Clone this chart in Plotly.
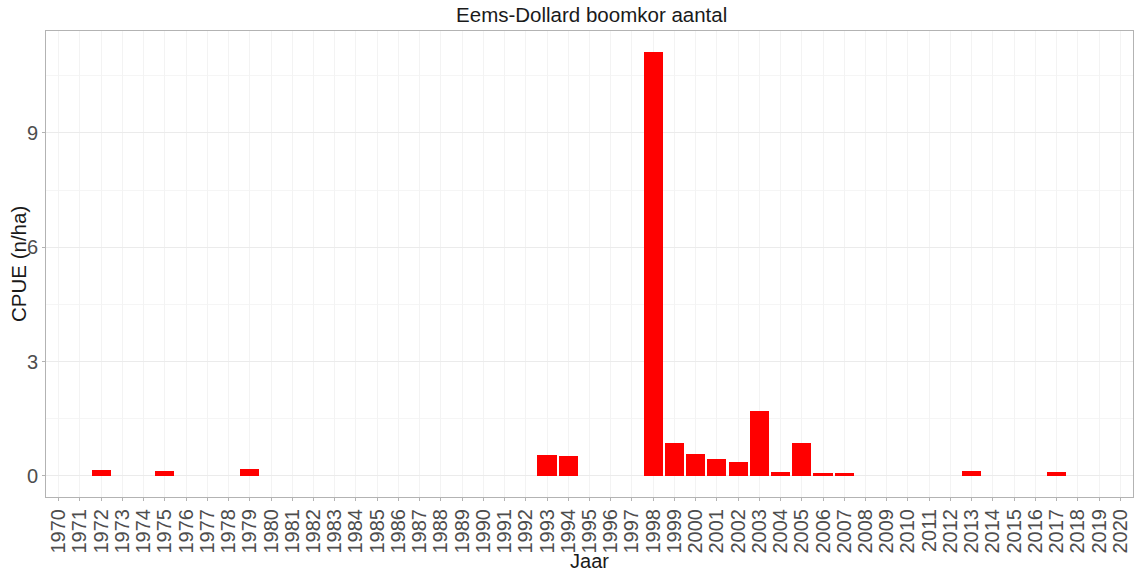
import plotly.graph_objects as go

years = list(range(1970, 2021))
cpue_by_year = {
    1972: 0.15, 1975: 0.12, 1979: 0.17,
    1993: 0.54, 1994: 0.53,
    1998: 11.12, 1999: 0.86, 2000: 0.58, 2001: 0.45, 2002: 0.37,
    2003: 1.71, 2004: 0.09, 2005: 0.87, 2006: 0.08, 2007: 0.08,
    2013: 0.12, 2017: 0.10,
}
cpue = [cpue_by_year.get(y, 0.0) for y in years]
year_labels = [str(y) for y in years]
ytick_vals = [0, 3, 6, 9]

fig = go.Figure(go.Bar(
    x=years, y=cpue, width=0.9,
    marker=dict(color="#FF0000", line=dict(width=0)),
))

ymax = max(cpue)
pad = 0.05 * ymax
fig.update_layout(
    width=1134, height=572,
    margin=dict(l=46, r=1, t=31, b=75, autoexpand=False),
    paper_bgcolor="white", plot_bgcolor="white",
    font=dict(family="Liberation Sans, Arial, sans-serif", color="#4d4d4d"),
    title=dict(text="Eems-Dollard boomkor aantal", x=0.502, xref="paper", xanchor="center",
               y=1 - 15 / 572, yanchor="middle",
               font=dict(size=20.5, color="#1a1a1a")),
    showlegend=False,
    bargap=0,
    annotations=[dict(
        text="CPUE (n/ha)", textangle=-90, showarrow=False,
        xref="paper", yref="paper", x=-28 / 1087, y=0.5,
        xanchor="center", yanchor="middle",
        font=dict(size=20.5, color="#1a1a1a"),
    )],
)
fig.update_xaxes(
    range=[1969.4, 2020.6], automargin=False,
    tickmode="array", tickvals=years, ticktext=year_labels,
    tickangle=-90, tickfont=dict(size=20, color="#4d4d4d"),
    ticks="outside", ticklen=3, tickcolor="#b3b3b3",
    showgrid=True, gridcolor="#f3f3f3", gridwidth=1,
    showline=True, linecolor="#b3b3b3", mirror=True, linewidth=1,
    zeroline=False,
    title=dict(text="Jaar", font=dict(size=20, color="#1a1a1a"), standoff=0),
)
fig.update_yaxes(
    range=[-pad, ymax + pad], automargin=False,
    tickmode="array", tickvals=ytick_vals,
    tickfont=dict(size=20, color="#4d4d4d"),
    ticks="outside", ticklen=3, tickcolor="#b3b3b3",
    showgrid=True, gridcolor="#ebebeb", gridwidth=1,
    minor=dict(tickvals=[1.5, 4.5, 7.5, 10.5], showgrid=True, gridcolor="#f5f5f5", ticks=""),
    showline=True, linecolor="#b3b3b3", mirror=True, linewidth=1,
    zeroline=False,
)

fig.write_html("out.html", config={"displayModeBar": False},
               post_script="document.body.style.margin='0';")
